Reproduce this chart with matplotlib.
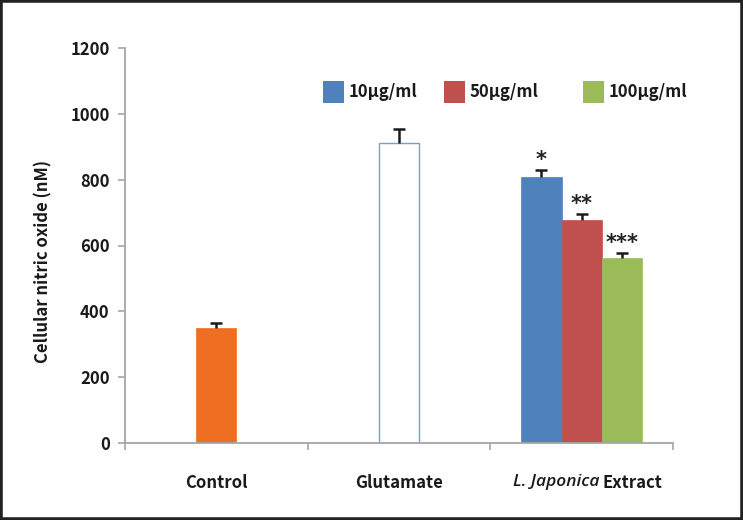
import matplotlib
matplotlib.use("Agg")
import matplotlib.pyplot as plt
from matplotlib.patches import Rectangle

plt.rcParams['font.family'] = ['Noto Sans CJK KR', 'DejaVu Sans']

# ---- data ----
categories = ["Control", "Glutamate", "L. Japonica", "Extract"]
control_value = [350]
control_err = [15]
glutamate_value = [912]
glutamate_err = [42]
dose_labels = ["10\u03bcg/ml", "50\u03bcg/ml", "100\u03bcg/ml"]
extract_values = [808, 678, 562]
extract_errs = [22, 18, 16]
signif = ["*", "**", "***"]
y_ticks = [0, 200, 400, 600, 800, 1000, 1200]

W, H = 743, 520
fig = plt.figure(figsize=(W / 100, H / 100), dpi=100)
ax = fig.add_axes([125 / W, 1 - 443 / H, 548 / W, 395 / H])

def px(x):
    return x / W

def py(y):
    return 1 - y / H

orange = "#EE6F22"
colors = ["#4F81BD", "#C0504D", "#9BBB59"]
ecol = "#1a1a1a"
txt = "#1a1a1a"
bw = 0.22
FS = 12

def err(x, v, e):
    _, caps, _ = ax.errorbar([x], v, yerr=[[0], e], fmt="none", ecolor=ecol,
                             elinewidth=1.8, capsize=4, capthick=1.8, zorder=3)
    caps[0].set_visible(False)

# control
ax.bar([0.5], control_value, width=bw, color=orange, edgecolor=orange, linewidth=0.5, zorder=2)
err(0.5, control_value, control_err)
# glutamate
ax.bar([1.5], glutamate_value, width=bw, color="white", edgecolor="#7E9CCB", linewidth=1.0, zorder=2)
err(1.5, glutamate_value, glutamate_err)
# extract
for i, (v, e, c, s) in enumerate(zip(extract_values, extract_errs, colors, signif)):
    x = 2.5 + (i - 1) * bw
    ax.bar([x], [v], width=bw, color=c, edgecolor=c, linewidth=0.5, zorder=2)
    err(x, [v], [e])
    ax.annotate(s, (x, v + e), xytext=(0, 0), textcoords="offset points",
                ha="center", va="bottom", fontsize=15, fontweight="bold",
                family="DejaVu Sans", color="#222222")

ax.set_xlim(0, 3)
ax.set_ylim(0, 1200)
ax.set_yticks(y_ticks)
ax.set_yticklabels([str(t) for t in y_ticks], fontsize=FS, fontweight="bold", color=txt)
ax.set_xticks([0, 1, 2, 3])
ax.set_xticklabels([])
for sp in ["top", "right"]:
    ax.spines[sp].set_visible(False)
for sp in ["left", "bottom"]:
    ax.spines[sp].set_color("#A6A6A6")
    ax.spines[sp].set_linewidth(1.3)
ax.tick_params(axis="both", direction="out", length=5, width=1.2, color="#A6A6A6")
ax.tick_params(axis="y", pad=6)

ax.set_ylabel("Cellular nitric oxide (nM)", fontsize=FS, fontweight="bold", color=txt)
ax.yaxis.set_label_coords(-0.133, 0.46)

# category labels
xt = ax.get_xaxis_transform()
ax.text(0.5, -0.1, categories[0], transform=xt, ha="center", va="center",
        fontsize=FS, fontweight="bold", color=txt)
ax.text(1.5, -0.1, categories[1], transform=xt, ha="center", va="center",
        fontsize=FS, fontweight="bold", color=txt)
ax.text(2.6, -0.1, categories[2], transform=xt, ha="right", va="center",
        fontsize=12.5, fontstyle="italic", fontweight="semibold", family="Open Sans", color=txt)
ax.text(2.615, -0.1, categories[3], transform=xt, ha="left", va="center",
        fontsize=FS, fontweight="bold", color=txt)

# legend (manual)
leg_sq = [323, 444, 583]
for xs, c, lab in zip(leg_sq, colors, dose_labels):
    fig.patches.append(Rectangle((px(xs), py(103)), 21 / W, 22 / H, transform=fig.transFigure,
                                 facecolor=c, edgecolor="none"))
    fig.text(px(xs + 26), py(92), lab, ha="left", va="center", fontsize=FS, fontweight="bold",
             color=txt)

# border
fig.patches.append(Rectangle((0, 0), 1, 1, transform=fig.transFigure, fill=False,
                             edgecolor="#222222", linewidth=4))

fig.savefig("out.png", dpi=100)
